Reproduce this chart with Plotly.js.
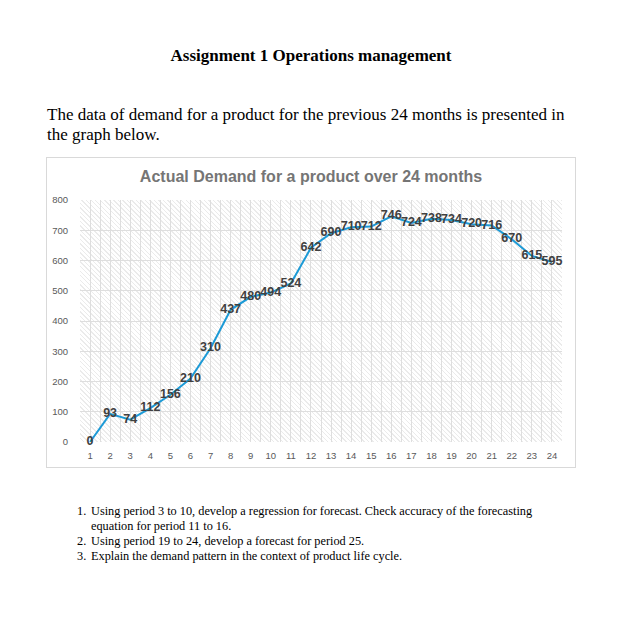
<!DOCTYPE html>
<html>
<head>
<meta charset="utf-8">
<script src="https://cdn.plot.ly/plotly-3.0.1.min.js"></script>
<style>
  html, body { margin:0; padding:0; background:#fff; }
  body { width:624px; height:631px; position:relative; overflow:hidden; font-family:"Liberation Serif", "Times New Roman", serif; color:#000; }
  .t { position:absolute; white-space:nowrap; line-height:1; }
  #box { position:absolute; left:46px; top:157px; width:528px; height:309px; border:1px solid #d9d9d9; background:#fff; }
  #hatch { position:absolute; left:80px; top:200px; width:482px; height:242px;
    background: repeating-linear-gradient(45deg, #ffffff 0px, #ffffff 2.2px, #ebebeb 2.2px, #ebebeb 3.2px); }
  #chart { position:absolute; left:46px; top:157px; width:530px; height:311px; }
</style>
</head>
<body>
<div class="t" id="h1" style="left:0; width:622px; text-align:center; top:47px; font-weight:bold; font-size:17px;">Assignment 1 Operations management</div>
<div class="t" style="left:47px; top:106px; font-size:17px;">The data of demand for a product for the previous 24 months is presented in</div>
<div class="t" style="left:47px; top:126px; font-size:17px;">the graph below.</div>

<div id="box"></div>
<div id="hatch"></div>
<div id="chart"></div>

<div class="t" style="left:77px; top:505px; font-size:12.3px;">1.</div>
<div class="t" style="left:91px; top:505px; font-size:12.3px;">Using period 3 to 10, develop a regression for forecast. Check accuracy of the forecasting</div>
<div class="t" style="left:91px; top:520px; font-size:12.3px;">equation for period 11 to 16.</div>
<div class="t" style="left:77px; top:535px; font-size:12.3px;">2.</div>
<div class="t" style="left:91px; top:535px; font-size:12.3px;">Using period 19 to 24, develop a forecast for period 25.</div>
<div class="t" style="left:77px; top:550px; font-size:12.3px;">3.</div>
<div class="t" style="left:91px; top:550px; font-size:12.3px;">Explain the demand pattern in the context of product life cycle.</div>

<script>
const months = [1,2,3,4,5,6,7,8,9,10,11,12,13,14,15,16,17,18,19,20,21,22,23,24];
const demand = [0,93,74,112,156,210,310,437,480,494,524,642,690,710,712,746,724,738,734,720,716,670,615,595];
const yTicks = [0,100,200,300,400,500,600,700,800];
const chartTitle = "Actual Demand for a product over 24 months";

const trace = {
  x: months,
  y: demand,
  type: 'scatter',
  mode: 'lines+text',
  line: { color: '#1c9ad6', width: 2 },
  text: demand.map(String),
  textposition: 'middle center',
  textfont: { family: 'Liberation Sans, Arial, sans-serif', size: 12.5, color: '#404040', weight: 'bold' },
  cliponaxis: false,
  hoverinfo: 'skip'
};

const layout = {
  width: 530, height: 311,
  margin: { l: 34, r: 14, t: 43, b: 26 },
  paper_bgcolor: 'rgba(0,0,0,0)',
  plot_bgcolor: 'rgba(0,0,0,0)',
  showlegend: false,
  title: {
    text: chartTitle,
    x: 0.5, xanchor: 'center',
    y: 1 - 19/311, yanchor: 'middle', yref: 'container',
    font: { family: 'Liberation Sans, Arial, sans-serif', size: 16, color: '#757575', weight: 'bold' }
  },
  xaxis: {
    type: 'linear',
    range: [0.5, 24.5],
    tickmode: 'array',
    tickvals: months,
    ticktext: months.map(String),
    showgrid: true, gridcolor: '#dedede', gridwidth: 1,
    minor: { tickmode: 'linear', tick0: 0.5, dtick: 1, showgrid: true, gridcolor: '#dedede', gridwidth: 1 },
    zeroline: false, showline: false,
    ticks: 'outside', ticklen: 5, tickcolor: 'rgba(0,0,0,0)',
    tickfont: { family: 'Liberation Sans, Arial, sans-serif', size: 9.5, color: '#595959' },
    fixedrange: true
  },
  yaxis: {
    range: [0, 800],
    tickmode: 'array',
    tickvals: yTicks,
    ticktext: yTicks.map(String),
    showgrid: true, gridcolor: '#dedede', gridwidth: 1,
    zeroline: false, showline: false,
    ticks: 'outside', ticklen: 9, tickcolor: 'rgba(0,0,0,0)',
    tickfont: { family: 'Liberation Sans, Arial, sans-serif', size: 9.5, color: '#595959' },
    fixedrange: true
  }
};

Plotly.newPlot('chart', [trace], layout, { displayModeBar: false, staticPlot: true });
</script>
</body>
</html>
